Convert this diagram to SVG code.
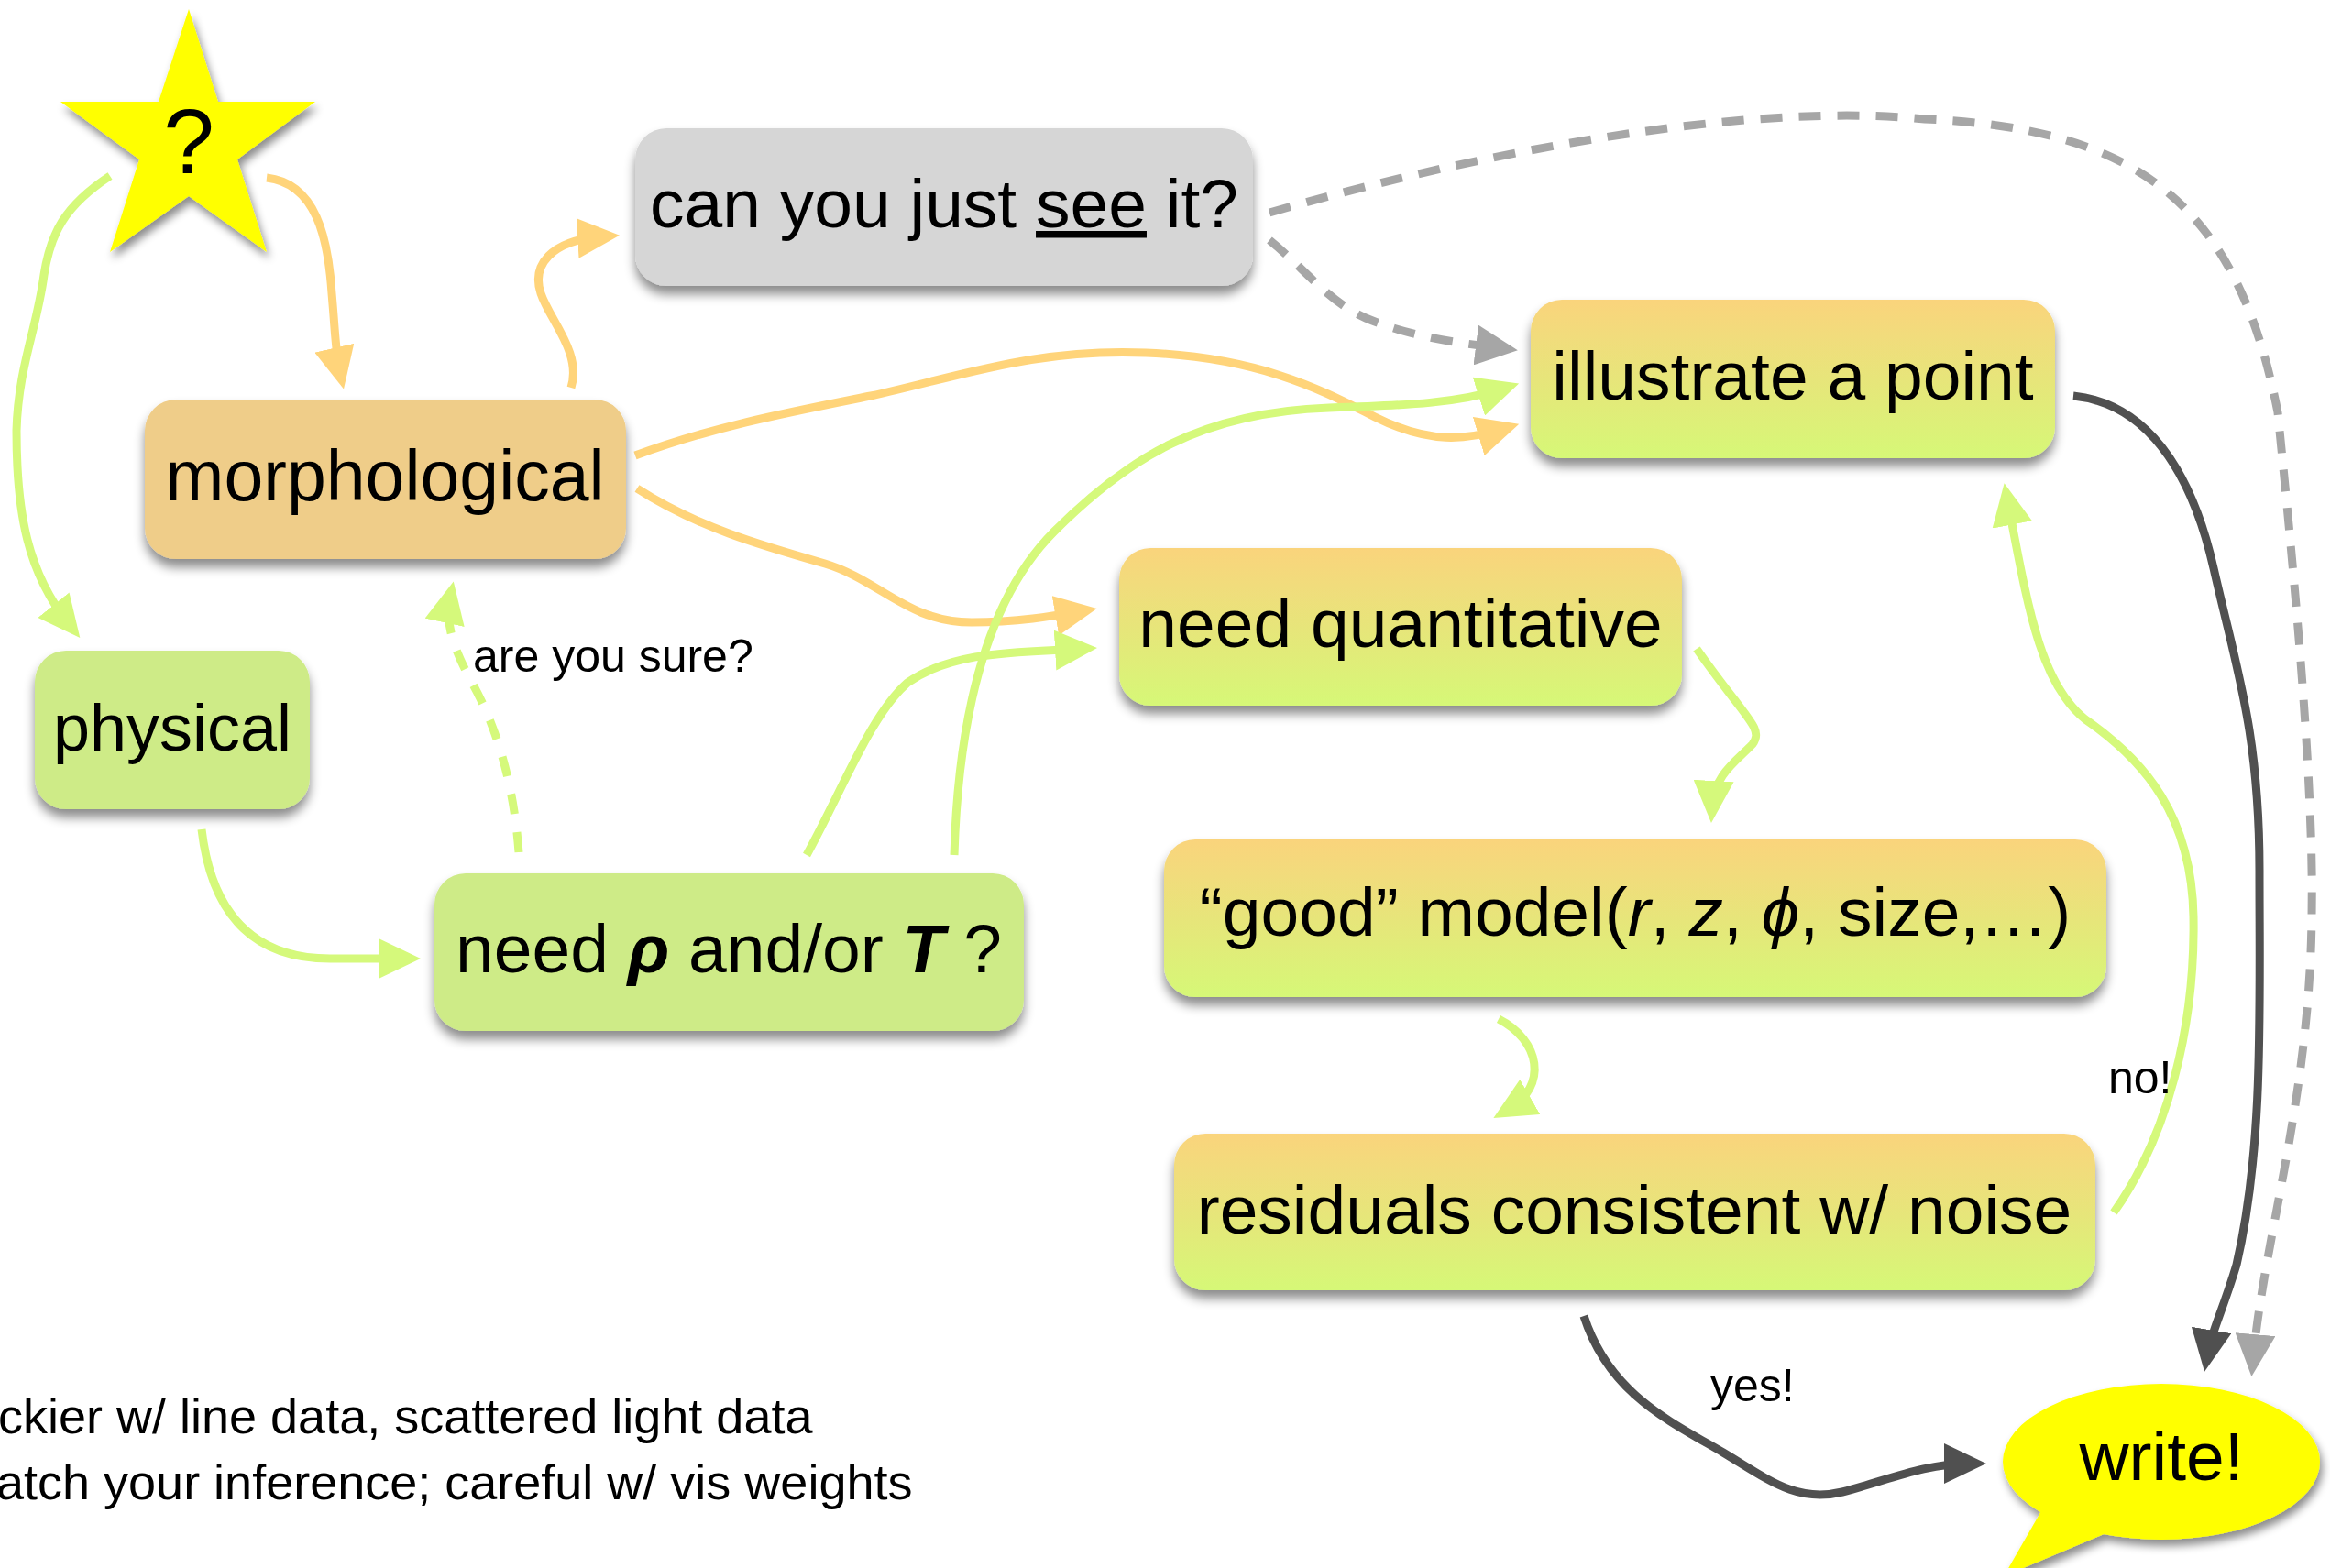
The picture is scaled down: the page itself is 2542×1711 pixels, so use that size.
<svg xmlns="http://www.w3.org/2000/svg" width="2542" height="1711" viewBox="0 0 2542 1711">
<defs>
<style>
.lbl{font-family:"Liberation Sans",Arial,sans-serif;fill:#000;}
.big{font-size:75px;}
.small{font-size:50px;}
.note{font-size:54px;}
.ln{fill:none;stroke-linecap:butt;stroke-linejoin:round;}
.or{stroke:#FFD47A;stroke-width:9;}
.gr{stroke:#D5F97B;stroke-width:9;}
.gy{stroke:#A6A6A6;stroke-width:9;stroke-dasharray:24 18;}
.dk{stroke:#505050;stroke-width:9;}
.grd{stroke:#D5F97B;stroke-width:9;stroke-dasharray:22 20;}
</style>
<linearGradient id="warm" x1="0" y1="0" x2="0" y2="1">
<stop offset="0" stop-color="#FAD47C"/>
<stop offset="0.5" stop-color="#E7E57A"/>
<stop offset="1" stop-color="#D6F877"/>
</linearGradient>
<filter id="sh" x="-10%" y="-20%" width="120%" height="150%">
<feDropShadow dx="0" dy="9" stdDeviation="6" flood-color="#000" flood-opacity="0.45"/>
</filter>
<filter id="shs" x="-20%" y="-20%" width="140%" height="140%">
<feDropShadow dx="3" dy="7" stdDeviation="5" flood-color="#000" flood-opacity="0.45"/>
</filter>
<marker id="aO" viewBox="0 0 46 44" refX="28" refY="22" markerWidth="46" markerHeight="44" markerUnits="userSpaceOnUse" orient="auto"><path d="M0,0 L46,22 L0,44 z" fill="#FFD47A"/></marker>
<marker id="aG" viewBox="0 0 46 44" refX="28" refY="22" markerWidth="46" markerHeight="44" markerUnits="userSpaceOnUse" orient="auto"><path d="M0,0 L46,22 L0,44 z" fill="#D5F97B"/></marker>
<marker id="aY" viewBox="0 0 46 44" refX="28" refY="22" markerWidth="46" markerHeight="44" markerUnits="userSpaceOnUse" orient="auto"><path d="M0,0 L46,22 L0,44 z" fill="#A6A6A6"/></marker>
<marker id="aD" viewBox="0 0 46 44" refX="28" refY="22" markerWidth="46" markerHeight="44" markerUnits="userSpaceOnUse" orient="auto"><path d="M0,0 L46,22 L0,44 z" fill="#505050"/></marker>
</defs>
<rect width="2542" height="1711" fill="#FFFFFF"/>

<g id="connectors">
<path class="ln gr" d="M120,192 C 70,225 55,255 48,300 C 40,360 20,400 18,470 C 18,560 30,625 76,682" marker-end="url(#aG)"/>
<path class="ln or" d="M291,194 C 345,200 358,260 362,320 C 366,365 366,385 371,407" marker-end="url(#aO)"/>
<path class="ln or" d="M623,423 C 635,385 600,350 590,320 C 580,290 600,262 658,258" marker-end="url(#aO)"/>
<path class="ln or" d="M693,497 C 780,465 860,450 950,432 C 1050,410 1130,380 1250,385 C 1380,390 1450,430 1500,455 C 1560,485 1600,480 1640,468" marker-end="url(#aO)"/>
<path class="ln or" d="M695,533 C 760,575 830,595 900,615 C 960,633 990,679 1060,679 C 1110,679 1150,672 1179,667" marker-end="url(#aO)"/>
<path class="ln gr" d="M220,905 C 230,990 270,1046 360,1046 C 400,1046 420,1046 441,1046" marker-end="url(#aG)"/>
<path class="ln grd" d="M566,930 C 560,850 540,790 515,745 C 495,708 485,680 491,652" marker-end="url(#aG)"/>
<path class="ln gr" d="M880,933 C 920,860 950,780 990,745 C 1040,710 1110,712 1179,708" marker-end="url(#aG)"/>
<path class="ln gr" d="M1041,933 C 1045,800 1070,660 1150,580 C 1230,500 1310,450 1450,445 C 1540,442 1590,440 1640,424" marker-end="url(#aG)"/>
<path class="ln gy" d="M1385,262 C 1420,290 1450,330 1490,347 C 1540,368 1590,374 1638,380" marker-end="url(#aY)"/>
<path class="ln gy" d="M1385,232 C 1600,170 1900,110 2100,130 C 2330,140 2440,220 2485,450 C 2500,600 2525,850 2522,1000 C 2520,1200 2470,1350 2458,1484" marker-end="url(#aY)"/>
<path class="ln dk" d="M2262,432 C 2340,440 2390,510 2415,620 C 2440,730 2465,800 2465,950 C 2465,1100 2470,1250 2440,1380 C 2425,1430 2412,1455 2408,1479" marker-end="url(#aD)"/>
<path class="ln gr" d="M1851,708 C 1905,785 1925,795 1912,812 C 1895,830 1870,845 1868,880" marker-end="url(#aG)"/>
<path class="ln gr" d="M1635,1112 C 1680,1135 1690,1185 1645,1211" marker-end="url(#aG)"/>
<path class="ln gr" d="M2306,1323 C 2365,1240 2395,1120 2393,1000 C 2391,890 2340,830 2275,785 C 2225,745 2212,660 2190,545" marker-end="url(#aG)"/>
<path class="ln dk" d="M1728,1436 C 1755,1520 1820,1550 1880,1585 C 1930,1615 1960,1640 2010,1628 C 2060,1615 2100,1597 2149,1597" marker-end="url(#aD)"/>
<text class="lbl small" x="516" y="733">are you sure?</text>
<text class="lbl small" x="2300" y="1193">no!</text>
<text class="lbl small" x="1866" y="1529">yes!</text>
</g>

<g id="start">
<polygon points="206,10 238,111 344,111 259,174 291,275 206,214 120,275 152,174 66,111 173,111" fill="#FFFF00" filter="url(#shs)"/>
<text class="lbl" x="206" y="189" font-size="100" text-anchor="middle">?</text>
</g>

<g id="see">
<rect x="693" y="140" width="674" height="172" rx="34" fill="#D6D6D6" filter="url(#sh)"/>
<text class="lbl big" x="1030" y="248" text-anchor="middle" font-size="73">can you just <tspan text-decoration="underline">see</tspan> it?</text>
</g>

<g id="morphological">
<rect x="158" y="436" width="525" height="174" rx="34" fill="#EFCD89" filter="url(#sh)"/>
<text class="lbl" x="420" y="546" text-anchor="middle" font-size="77">morphological</text>
</g>

<g id="physical">
<rect x="38" y="710" width="300" height="173" rx="34" fill="#CEEB87" filter="url(#sh)"/>
<text class="lbl" x="188" y="819" text-anchor="middle" font-size="72">physical</text>
</g>

<g id="needrhoT">
<rect x="474" y="953" width="643" height="172" rx="34" fill="#CEEB87" filter="url(#sh)"/>
<text class="lbl big" x="795" y="1061" text-anchor="middle">need <tspan font-weight="bold" font-style="italic">ρ</tspan> and/or <tspan font-weight="bold" font-style="italic">T</tspan> ?</text>
</g>

<g id="illustrate">
<rect x="1670" y="327" width="572" height="173" rx="34" fill="url(#warm)" filter="url(#sh)"/>
<text class="lbl big" x="1956" y="436" text-anchor="middle">illustrate a point</text>
</g>

<g id="quantitative">
<rect x="1221" y="598" width="614" height="172" rx="34" fill="url(#warm)" filter="url(#sh)"/>
<text class="lbl big" x="1528" y="706" text-anchor="middle">need quantitative</text>
</g>

<g id="model">
<rect x="1270" y="916" width="1028" height="172" rx="34" fill="url(#warm)" filter="url(#sh)"/>
<text class="lbl big" x="1784" y="1021" text-anchor="middle" font-size="76">“good” model(<tspan font-style="italic">r</tspan>, <tspan font-style="italic">z</tspan>, <tspan font-style="italic">ϕ</tspan>, size,…)</text>
</g>

<g id="residuals">
<rect x="1281" y="1237" width="1005" height="171" rx="34" fill="url(#warm)" filter="url(#sh)"/>
<text class="lbl big" x="1783" y="1346" text-anchor="middle">residuals consistent w/ noise</text>
</g>

<g id="write">
<g filter="url(#shs)" fill="#FFFF00">
<ellipse cx="2358" cy="1595" rx="173" ry="85"/>
<polygon points="2232,1640 2186,1720 2300,1672"/>
</g>
<text class="lbl big" x="2358" y="1615" text-anchor="middle">write!</text>
</g>

<g id="notes">
<text class="lbl note" x="-2" y="1564">ckier w/ line data, scattered light data</text>
<text class="lbl note" x="-4" y="1636">atch your inference; careful w/ vis weights</text>
</g>
</svg>
